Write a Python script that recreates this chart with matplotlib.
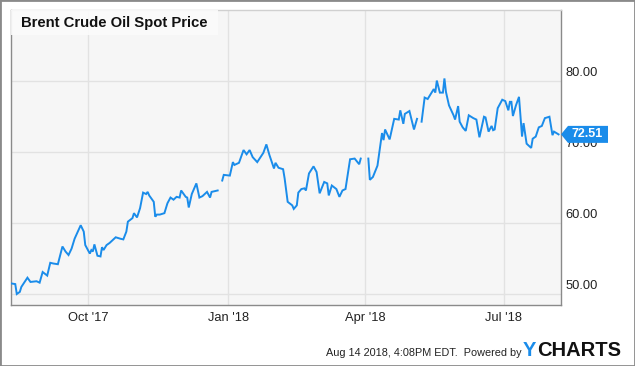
import matplotlib
matplotlib.use("Agg")
import matplotlib.pyplot as plt
import matplotlib.dates as mdates
import matplotlib.transforms as mtransforms
from matplotlib.patches import Rectangle, Polygon
import numpy as np
import pandas as pd
from datetime import datetime

plt.rcParams['font.family'] = ['Liberation Sans', 'DejaVu Sans']

title = "Brent Crude Oil Spot Price"
footer = "Aug 14 2018, 4:08PM EDT.  Powered by"
last_label = "72.51"

dates = [
    "2017-08-11", "2017-08-14", "2017-08-15", "2017-08-17", "2017-08-18", "2017-08-22",
    "2017-08-24", "2017-08-28", "2017-08-30", "2017-09-01", "2017-09-04", "2017-09-06",
    "2017-09-08", "2017-09-11", "2017-09-14", "2017-09-16", "2017-09-18", "2017-09-20",
    "2017-09-22", "2017-09-26", "2017-09-28", "2017-09-29", "2017-10-02", "2017-10-03",
    "2017-10-04", "2017-10-05", "2017-10-07", "2017-10-09", "2017-10-10", "2017-10-11",
    "2017-10-13", "2017-10-15", "2017-10-19", "2017-10-22", "2017-10-24", "2017-10-26",
    "2017-10-27", "2017-10-30", "2017-10-31", "2017-11-02", "2017-11-04", "2017-11-06",
    "2017-11-08", "2017-11-09", "2017-11-10", "2017-11-13", "2017-11-14", "2017-11-15",
    "2017-11-17", "2017-11-20", "2017-11-22", "2017-11-24", "2017-11-26", "2017-11-28",
    "2017-11-30", "2017-12-01", "2017-12-04", "2017-12-05", "2017-12-06", "2017-12-08",
    "2017-12-11", "2017-12-13", "2017-12-15", "2017-12-18", "2017-12-20", "2017-12-21",
    "2017-12-25", "2017-12-26", "2017-12-28", "2017-12-29", "2018-01-02", "2018-01-04",
    "2018-01-05", "2018-01-08", "2018-01-11", "2018-01-13", "2018-01-15", "2018-01-17",
    "2018-01-20", "2018-01-24", "2018-01-26", "2018-01-28", "2018-01-31", "2018-02-01",
    "2018-02-03", "2018-02-06", "2018-02-07", "2018-02-09", "2018-02-12", "2018-02-13",
    "2018-02-15", "2018-02-16", "2018-02-18", "2018-02-20", "2018-02-21", "2018-02-23",
    "2018-02-26", "2018-02-28", "2018-03-02", "2018-03-05", "2018-03-07", "2018-03-08",
    "2018-03-10", "2018-03-13", "2018-03-15", "2018-03-17", "2018-03-19", "2018-03-22",
    "2018-03-25", "2018-03-28", "2018-03-29", "2018-03-31", "2018-04-03", "2018-04-04",
    "2018-04-06", "2018-04-09", "2018-04-12", "2018-04-13", "2018-04-14", "2018-04-17",
    "2018-04-20", "2018-04-23", "2018-04-24", "2018-04-26", "2018-04-27", "2018-04-30",
    "2018-05-03", "2018-05-05", "2018-05-07", "2018-05-08", "2018-05-10", "2018-05-12",
    "2018-05-16", "2018-05-17", "2018-05-18", "2018-05-20", "2018-05-22", "2018-05-23",
    "2018-05-24", "2018-05-26", "2018-05-29", "2018-05-30", "2018-06-01", "2018-06-02",
    "2018-06-04", "2018-06-06", "2018-06-08", "2018-06-11", "2018-06-13", "2018-06-15",
    "2018-06-18", "2018-06-19", "2018-06-21", "2018-06-23", "2018-06-24", "2018-06-25",
    "2018-06-27", "2018-06-30", "2018-07-02", "2018-07-04", "2018-07-05", "2018-07-06",
    "2018-07-07", "2018-07-09", "2018-07-11", "2018-07-13", "2018-07-14", "2018-07-16",
    "2018-07-19", "2018-07-20", "2018-07-22", "2018-07-24", "2018-07-26", "2018-07-28",
    "2018-07-31", "2018-08-02", "2018-08-03", "2018-08-06",
]

prices = [
    51.5, 51.4, 50.0, 50.3, 51.0, 52.3,
    51.7, 51.8, 51.6, 53.1, 52.6, 54.4,
    54.3, 54.2, 56.7, 56.0, 55.5, 56.4,
    57.8, 59.7, 58.8, 56.9, 55.7, 56.2,
    56.0, 57.0, 55.4, 55.3, 56.6, 56.2,
    56.9, 57.2, 58.0, 57.8, 57.7, 58.8,
    60.2, 60.7, 61.4, 60.8, 62.1, 64.3,
    64.1, 64.4, 63.9, 63.0, 60.9, 61.2,
    61.2, 61.4, 62.8, 63.6, 63.3, 63.7,
    63.6, 64.6, 63.7, 63.6, 62.2, 64.1,
    65.6, 63.6, 63.8, 64.4, 63.6, 64.4,
    64.6, np.nan, 66.0, 66.8, 66.7, 68.6,
    68.2, 68.5, 70.3, 69.7, 70.3, 69.3,
    68.6, 69.9, 71.1, 69.6, 67.7, 68.5,
    67.8, 67.6, 66.3, 63.0, 62.5, 62.0,
    62.5, 64.3, 64.8, 64.9, 64.6, 67.0,
    68.0, 67.2, 64.2, 65.8, 65.6, 63.9,
    65.3, 64.8, 63.7, 64.6, 64.8, 69.0,
    69.1, 68.3, 69.1, np.nan, 69.1, 66.1,
    66.5, 68.1, 72.7, 71.7, 73.2, 71.8,
    74.7, 74.6, 75.9, 74.0, 75.4, 75.8,
    73.2, 74.7, np.nan, 74.3, 77.7, 77.5,
    78.9, 78.4, 80.1, 78.4, 78.4, 80.4,
    78.5, 76.6, 75.2, 74.6, 76.5, 74.3,
    73.5, 73.0, 75.2, 74.8, 74.6, 72.1,
    75.0, 74.9, 72.9, 73.7, 73.1, 73.2,
    76.2, 77.4, 77.2, 75.9, 77.1, 77.1,
    75.1, 76.6, 77.8, 72.2, 74.1, 71.2,
    70.6, 71.9, 72.2, 73.5, 73.7, 74.8,
    75.0, 72.4, 72.9, 72.51,
]

y_ticks = [50, 60, 70, 80]
y_tick_labels = ["50.00", "60.00", "70.00", "80.00"]
x_ticks = ["2017-10-01", "2018-01-01", "2018-04-01", "2018-07-01"]
x_tick_labels = ["Oct '17", "Jan '18", "Apr '18", "Jul '18"]

line_color = "#1a8cea"

W, H = 635, 366
fig = plt.figure(figsize=(W / 100, H / 100), dpi=100)
fig.patch.set_facecolor("white")

ax_l, ax_r, ax_t, ax_b = 11, 561, 10, 305
ax = fig.add_axes([ax_l / W, 1 - ax_b / H, (ax_r - ax_l) / W, (ax_b - ax_t) / H])
ax.set_facecolor("#f6f6f6")

x = pd.to_datetime(dates)
ax.plot(x, prices, color=line_color, lw=1.4, solid_joinstyle="miter", zorder=3)

base = mdates.date2num(datetime(2017, 10, 1))
ax.set_xlim(base - 50.8, base + 310.6)
ax.set_ylim(48.45, 90.05)

ax.set_xticks(pd.to_datetime(x_ticks))
ax.set_xticklabels(x_tick_labels)
ax.set_yticks(y_ticks)
ax.set_yticklabels(y_tick_labels)
ax.yaxis.tick_right()
ax.tick_params(axis="both", length=0, labelsize=9.3, colors="#222222")
ax.tick_params(axis="x", pad=5)
ax.tick_params(axis="y", pad=3)
off = mtransforms.ScaledTranslation(0, 9.5 / 100, fig.dpi_scale_trans)
for lbl in ax.get_yticklabels():
    lbl.set_transform(lbl.get_transform() + off)
    lbl.set_horizontalalignment("left")

ax.grid(True, color="#e2e2e2", lw=1.0)
ax.set_axisbelow(True)
for s in ["left", "bottom", "right"]:
    ax.spines[s].set_color("#8a8a8a")
    ax.spines[s].set_linewidth(1.0)
ax.spines["top"].set_color("#d0d0d0")
ax.spines["top"].set_linewidth(1.0)

# title box
fig.add_artist(Rectangle((ax_l / W, 1 - 35 / H), (218 - ax_l) / W, 25 / H,
                         transform=fig.transFigure, facecolor="#fbfbfb",
                         edgecolor="none", alpha=0.9, zorder=2))
fig.text(21 / W, 1 - 23.5 / H, title, fontsize=10.7, fontweight="bold",
         color="#111111", ha="left", va="center", zorder=3)

# last value label
px, py = ax.transData.transform((base + 310.6, prices[-1]))
py_top = H - py
pts = [(561, py_top), (568, py_top - 8.5), (608, py_top - 8.5),
       (608, py_top + 8.5), (568, py_top + 8.5)]
poly = Polygon([(a / W, 1 - b / H) for a, b in pts], closed=True,
               transform=fig.transFigure, facecolor=line_color,
               edgecolor="none", zorder=5)
fig.add_artist(poly)
fig.text(587.5 / W, 1 - py_top / H, last_label, fontsize=9, fontweight="bold",
         color="white", ha="center", va="center", zorder=6)

# footer
fig.text(326 / W, 1 - 353.5 / H, footer, fontsize=7.8, color="#222222",
         ha="left", va="center")
fig.text(523 / W, 1 - 350 / H, "Y", fontsize=14.5, fontweight="bold",
         color=line_color, ha="left", va="center")
fig.text(537 / W, 1 - 350 / H, "CHARTS", fontsize=14.5, fontweight="bold",
         color="#111111", ha="left", va="center")

# outer border
fig.add_artist(Rectangle((0, 0), 1, 1, transform=fig.transFigure, fill=False,
                         edgecolor="#8a8a8a", lw=2, zorder=10))

fig.savefig("out.png", dpi=100)
